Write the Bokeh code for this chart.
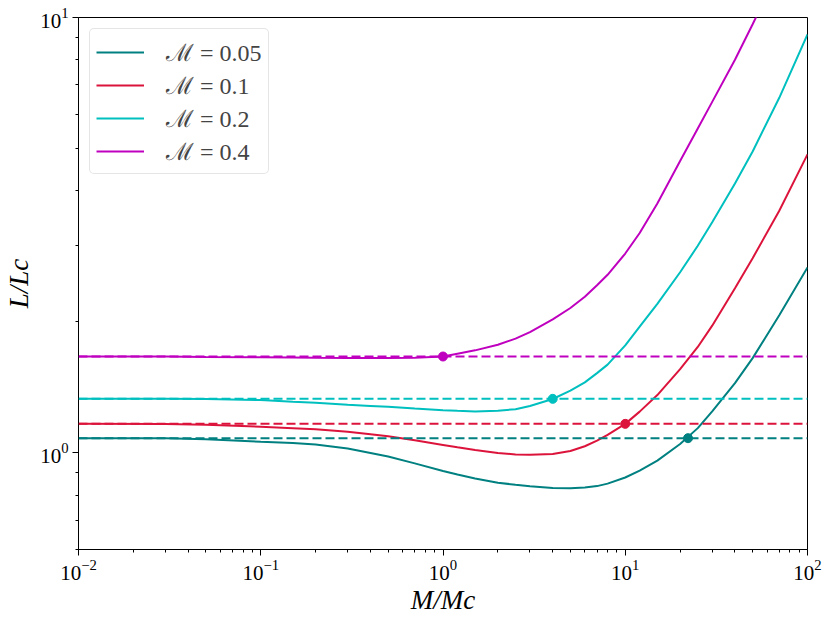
from bokeh.plotting import figure
from bokeh.models import Span, FixedTicker, Legend, LegendItem
from bokeh.embed import file_html
from bokeh.resources import INLINE

# ---- data ----
mach_labels = ["ℳ = 0.05", "ℳ = 0.1", "ℳ = 0.2", "ℳ = 0.4"]
colors = ["#008080", "#DC143C", "#00BFBF", "#BF00BF"]

m_grid = [0.01, 0.03, 0.05, 0.1, 0.15, 0.2, 0.3, 0.4, 0.5, 0.7, 1, 1.2, 1.5, 2, 2.5, 3,
          4, 5, 6, 7, 8, 10, 12, 15, 20, 25, 30, 40, 50, 70, 100]

L_005 = [1.081, 1.080, 1.075, 1.061, 1.054, 1.045, 1.023, 1.000, 0.981, 0.946, 0.909, 0.892,
         0.873, 0.854, 0.845, 0.838, 0.831, 0.830, 0.833, 0.839, 0.850, 0.878, 0.911, 0.960,
         1.048, 1.140, 1.245, 1.446, 1.651, 2.070, 2.666]
L_01 = [1.166, 1.165, 1.161, 1.149, 1.140, 1.133, 1.118, 1.104, 1.092, 1.069, 1.043, 1.030,
        1.015, 0.999, 0.992, 0.990, 0.994, 1.010, 1.036, 1.067, 1.100, 1.166, 1.244, 1.358,
        1.557, 1.751, 1.960, 2.390, 2.800, 3.600, 4.85]
L_02 = [1.332, 1.331, 1.329, 1.322, 1.310, 1.303, 1.290, 1.282, 1.276, 1.264, 1.253, 1.249,
        1.245, 1.250, 1.260, 1.282, 1.330, 1.390, 1.452, 1.525, 1.595, 1.766, 1.950, 2.200,
        2.600, 2.990, 3.386, 4.157, 4.924, 6.54, 9.14]
L_04 = [1.665, 1.664, 1.661, 1.658, 1.656, 1.654, 1.652, 1.651, 1.651, 1.654, 1.665, 1.690,
        1.720, 1.772, 1.830, 1.894, 2.026, 2.152, 2.284, 2.427, 2.565, 2.870, 3.200, 3.740,
        4.680, 5.560, 6.400, 8.000, 9.650, 12.9, 17.9]
series = [L_005, L_01, L_02, L_04]

asym_levels = [1.081, 1.166, 1.331, 1.665]   # dashed horizontal levels
dot_x = [22.1, 10, 4, 1]
dot_y = [1.081, 1.166, 1.331, 1.665]

x_major = [0.01, 0.1, 1, 10, 100]
x_minor = [m * 10.0 ** e for e in range(-2, 2) for m in range(2, 10)]
y_major = [1, 10]
y_minor = [0.6, 0.7, 0.8, 0.9] + [m for m in range(2, 10)]

SERIF = "Liberation Serif"

p = figure(x_axis_type="log", y_axis_type="log",
           x_range=(0.01, 100), y_range=(0.6, 10),
           frame_width=729, frame_height=532,
           min_border_left=78, min_border_right=16, min_border_top=17, min_border_bottom=63,
           output_backend="svg", toolbar_location=None)

p.xgrid.visible = False
p.ygrid.visible = False
p.outline_line_color = "black"
p.outline_line_alpha = 1.0
p.outline_line_width = 1
p.background_fill_color = "white"
p.border_fill_color = "white"

p.xaxis.ticker = FixedTicker(ticks=x_major, minor_ticks=x_minor)
p.yaxis.ticker = FixedTicker(ticks=y_major, minor_ticks=y_minor)
for ax in (p.xaxis, p.yaxis):
    ax.axis_line_color = "black"
    ax.major_tick_line_color = "black"
    ax.minor_tick_line_color = "black"
    ax.major_tick_in = 0
    ax.major_tick_out = 6
    ax.minor_tick_in = 0
    ax.minor_tick_out = 3
    ax.major_label_text_font = SERIF
    ax.major_label_text_font_size = "21px"
    ax.major_label_text_color = "black"
    ax.axis_label_text_font = SERIF
    ax.axis_label_text_font_style = "italic"
    ax.axis_label_text_font_size = "27px"
    ax.axis_label_text_color = "black"
p.xaxis.major_label_standoff = 4
p.yaxis.major_label_standoff = 4
p.xaxis.axis_label = "M/Mc"
p.yaxis.axis_label = "L/Lc"
p.xaxis.axis_label_standoff = 2
p.yaxis.axis_label_standoff = 3

items = []
for lab, c, ys in zip(mach_labels, colors, series):
    r = p.line(m_grid, ys, line_color=c, line_width=2)
    items.append(LegendItem(label=lab, renderers=[r]))

for lvl, c in zip(asym_levels, colors):
    p.add_layout(Span(location=lvl, dimension="width", line_color=c,
                      line_width=2, line_dash="9 4"))

p.scatter(dot_x, dot_y, size=9, color=colors, line_color=colors)

legend = Legend(items=items, location="top_left")
legend.margin = 11
legend.padding = 6
legend.spacing = 0
legend.glyph_width = 48
legend.glyph_height = 26
legend.label_standoff = 22
legend.label_height = 26
legend.label_text_font = SERIF
legend.label_text_font_size = "24px"
legend.border_line_color = "#cccccc"
legend.border_line_width = 1
legend.border_radius = 5
legend.background_fill_alpha = 0.8
p.add_layout(legend)

open("out.html", "w").write(file_html(p, INLINE))
